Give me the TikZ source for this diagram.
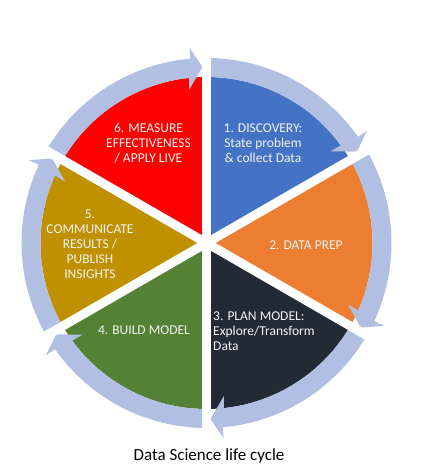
\documentclass[tikz,border=0pt]{standalone}
\usepackage{fontspec}
\setmainfont{Carlito}
\definecolor{wblue}{HTML}{4472C4}
\definecolor{worange}{HTML}{ED7D31}
\definecolor{wdark}{HTML}{222A35}
\definecolor{wgreen}{HTML}{548235}
\definecolor{wgold}{HTML}{BF9000}
\definecolor{wred}{HTML}{FF0000}
\definecolor{ringc}{HTML}{B0BFE2}
\definecolor{labc}{HTML}{F4F4F4}
\tikzset{
  steplabel/.style={text=labc, font=\fontsize{13.5pt}{15pt}\selectfont, align=center, inner sep=0pt},
  gapline/.style={white, line width=9pt},
  cyclearrow/.style={fill=ringc},
}
\begin{document}
\begin{tikzpicture}[x=1pt,y=1pt]
  \fill[white] (0,0) rectangle (426,476);
  \useasboundingbox (0,0) rectangle (426,476);
  \begin{scope}[shift={(206.5,233)}]
    % pie sectors
    \fill[wblue]   (0,0) -- (90:166)  arc[start angle=90,  end angle=30,   radius=166] -- cycle;
    \fill[worange] (0,0) -- (30:166)  arc[start angle=30,  end angle=-30,  radius=166] -- cycle;
    \fill[wdark]   (0,0) -- (-30:166) arc[start angle=-30, end angle=-90,  radius=166] -- cycle;
    \fill[wgreen]  (0,0) -- (-90:166) arc[start angle=-90, end angle=-150, radius=166] -- cycle;
    \fill[wgold]   (0,0) -- (210:166) arc[start angle=210, end angle=150,  radius=166] -- cycle;
    \fill[wred]    (0,0) -- (150:166) arc[start angle=150, end angle=90,   radius=166] -- cycle;
    % clockwise arrows around the ring
    \foreach \s/\e in {90/30, 30/-30, -30/-90, -90/-150, 210/150, 150/90}{
      \fill[cyclearrow] (\s:185) arc[start angle=\s, end angle=\e+5, radius=185]
        -- ({\e+5}:196) -- ({\e+1.3}:176) -- ({\e+6.5}:154) -- ({\e+6}:166)
        arc[start angle=\e+6, end angle=\s, radius=166] -- cycle;
    }
    % white gaps between the sectors
    \foreach \a in {90,30,-30,-90,-150,150}{
      \draw[gapline] (0,0) -- (\a:210);
    }
  \end{scope}
  % step labels
  \node[steplabel] (s1) at (263,333) {1. DISCOVERY:\\State problem\\\& collect Data};
  \node[steplabel] (s2) at (306,230.5) {2. DATA PREP};
  \node[steplabel, align=left, anchor=west] (s3) at (213,145) {3. PLAN MODEL:\\Explore/Transform\\Data};
  \node[steplabel] (s4) at (144,146) {4. BUILD MODEL};
  \node[steplabel] (s5) at (90,231.5) {5.\\COMMUNICATE\\RESULTS /\\PUBLISH\\INSIGHTS};
  \node[steplabel] (s6) at (148.5,333) {6. MEASURE\\EFFECTIVENESS\\/ APPLY LIVE};
  % caption
  \node[font=\fontsize{17pt}{20pt}\selectfont, anchor=base, inner sep=0pt] (cap) at (209,16) {Data Science life cycle};
\end{tikzpicture}
\end{document}
